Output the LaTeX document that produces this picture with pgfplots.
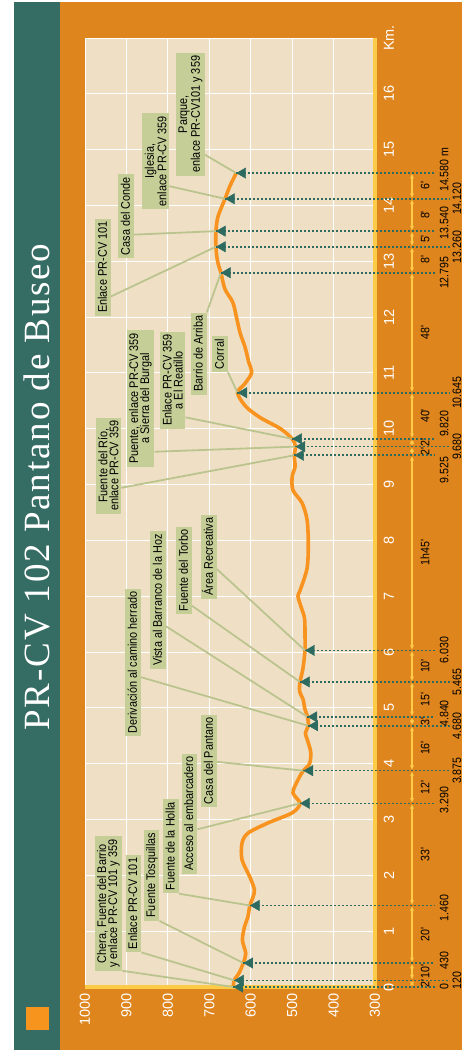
\documentclass[border=0pt]{standalone}
\usepackage{graphicx}
\usepackage{pgfplots}
\pgfplotsset{compat=1.18}
\usetikzlibrary{arrows.meta,calc}
\usepackage{fontspec}
\setmainfont{Liberation Sans}
\newfontfamily\titlefont[LetterSpace=5]{Liberation Serif}
\newfontfamily\boxfamily[FakeStretch=0.87]{Liberation Sans}
\definecolor{bgorange}{HTML}{DF851E}
\definecolor{bandteal}{HTML}{356C63}
\definecolor{cream}{HTML}{EFE0C5}
\definecolor{boxgreen}{HTML}{C5CE97}
\definecolor{curveorange}{HTML}{F7931E}
\definecolor{axisyellow}{HTML}{FECB48}
\definecolor{markteal}{HTML}{2D6A5F}
\definecolor{sqorange}{HTML}{F7941D}
\newcommand\bxf{\boxfamily\fontsize{12.5}{11}\selectfont}
\newcommand\smf{\boxfamily\fontsize{12.2}{12}\selectfont}
\newcommand\tkf{\fontsize{14.5}{16}\selectfont}
\tikzset{
  box/.style={fill=boxgreen, inner xsep=3pt, inner ysep=2.5pt, font=\bxf, text=black, text height=9pt, text depth=1.5pt},
  box2/.style={fill=boxgreen, inner xsep=3pt, inner ysep=2.5pt, font=\bxf, text=black, align=center},
  leader/.style={draw=boxgreen!95!black, line width=1.8pt},
  dropline/.style={draw=markteal, line width=1.6pt, dash pattern=on 2pt off 2pt},
  tline/.style={draw=axisyellow, line width=1.2pt, {Stealth[length=4.5pt,width=4pt]}-{Stealth[length=4.5pt,width=4pt]}, shorten <=1pt, shorten >=1pt},
  tlabel/.style={font=\smf, text=black, anchor=center},
  dlabel/.style={font=\smf, text=black, anchor=center},
}
% time segment: from, to, label, label position
\newcommand\seg[4]{\draw[tline] (axis cs:#1,210.7) -- (axis cs:#2,210.7); \node[tlabel] at (axis cs:#4,179) {#3};}
% dotted drop line: km, alt, end alt
\newcommand\drop[3]{\draw[dropline] (axis cs:#1,#2) -- (axis cs:#1,#3);}
\begin{document}
\rotatebox{90}{%
\begin{tikzpicture}
\fill[white] (0pt,0pt) rectangle (1050pt,462pt);
\fill[bgorange] (0pt,0pt) rectangle (1048pt,402pt);
\fill[bandteal] (0pt,402pt) rectangle (1048pt,448pt);
\fill[sqorange] (20pt,413pt) rectangle (43pt,436pt);
\node[text=white, font=\titlefont\fontsize{37}{40}\selectfont, anchor=center] at (563pt,425pt) {PR-CV 102 Pantano de Buseo};
\begin{axis}[
  at={(63pt,87pt)}, anchor=south west,
  scale only axis, width=949pt, height=290pt,
  xmin=0, xmax=17, ymin=300, ymax=1000,
  xtick={0,1,...,17}, xticklabels={0,1,2,3,4,5,6,7,8,9,10,11,12,13,14,15,16,Km.},
  ytick={300,400,...,1000},
  major tick length=0pt,
  grid=major, grid style={white, line width=0.9pt},
  axis background/.style={fill=cream},
  axis line style={draw=none},
  clip=false,
  /pgf/number format/assume math mode=true,
  /pgf/number format/1000 sep={},
  xticklabel style={font=\tkf, text=white, anchor=center, yshift=-14pt},
  yticklabel style={font=\tkf, text=white, xshift=-3pt},
]
% yellow axis lines
\draw[axisyellow, line width=3.5pt] (axis cs:0,1000) -- (axis cs:0,300) -- (axis cs:17,300);
% profile
\addplot[curveorange, line width=3.6pt, smooth, tension=0.5] coordinates {
(0,642) (0.12,640) (0.25,628) (0.43,618) (0.6,612) (0.84,620) (1.08,615) (1.25,607) (1.46,602) (1.6,595) (1.74,591) (1.97,602) (2.28,621) (2.58,621) (2.76,606) (2.94,558) (3.12,500) (3.29,481) (3.48,498) (3.71,486) (3.875,473) (4.0,458) (4.2,455) (4.4,462) (4.55,468) (4.68,461) (4.84,463) (5.0,470) (5.14,473) (5.3,482) (5.465,481) (5.7,474) (6.03,469) (6.3,469) (6.6,470) (6.8,478) (7.0,486) (7.1,481) (7.5,464) (7.95,461) (8.37,464) (8.67,476) (8.9,498) (9.14,500) (9.32,493) (9.525,495) (9.68,492) (9.82,500) (10.0,528) (10.2,577) (10.4,612) (10.645,632) (10.8,615) (11.0,598) (11.2,605) (11.47,614) (11.7,625) (11.95,633) (12.26,643) (12.5,662) (12.795,672) (13.0,680) (13.26,684) (13.54,684) (13.8,679) (14.12,662) (14.35,650) (14.58,635)};
% boxes
\node[box2] (b1) at (axis cs:1.495,943.5) {Chera, Fuente del Barrio\\y enlace PR-CV 101 y 359};
\node[box] (b2) at (axis cs:1.495,883) {Enlace PR-CV 101};
\node[box] (b3) at (axis cs:2.0,839.5) {Fuente Tosquillas};
\node[box] (b4) at (axis cs:2.52,792.5) {Fuente de la Holla};
\node[box] (b5) at (axis cs:3.105,748) {Acceso al embarcadero};
\node[box] (b6) at (axis cs:4.05,700.5) {Casa del Pantano};
\node[box] (b7) at (axis cs:5.815,884) {Derivación al camino herrado};
\node[box] (b8) at (axis cs:6.93,823.5) {Vista al Barranco de la Hoz};
\node[box] (b9) at (axis cs:7.46,761) {Fuente del Torbo};
\node[box] (b10) at (axis cs:7.71,700.5) {Área Recreativa};
\node[box2] (b11) at (axis cs:9.34,943.5) {Fuente del Río,\\enlace PR-CV 359};
\node[box2] (b12) at (axis cs:10.545,866) {Puente, enlace PR-CV 359\\a Sierra del Burgal};
\node[box2] (b13) at (axis cs:10.87,788.5) {Enlace PR-CV 359\\a El Reatillo};
\node[box] (b14) at (axis cs:11.345,725) {Barrio de Arriba};
\node[box] (b15) at (axis cs:11.335,674) {Corral};
\node[box] (b16) at (axis cs:12.895,956.5) {Enlace PR-CV 101};
\node[box] (b17) at (axis cs:13.81,901) {Casa del Conde};
\node[box2] (b18) at (axis cs:14.795,829.5) {Iglesia,\\enlace PR-CV 359};
\node[box2] (b19) at (axis cs:15.635,745.5) {Parque,\\enlace PR-CV101 y 359};
% leader lines
\draw[leader] (b1.south west) -- (axis cs:0,642);
\draw[leader] (b2.south west) -- (axis cs:0.12,640);
\draw[leader] (b3.south west) -- (axis cs:0.43,618);
\draw[leader] (b4.south west) -- (axis cs:1.46,602);
\draw[leader] ($(b5.south west)!0.37!(b5.south east)$) -- (axis cs:3.29,481);
\draw[leader] ($(b6.south west)!0.49!(b6.south east)$) -- (axis cs:3.875,473);
\draw[leader] ($(b7.south west)!0.40!(b7.south east)$) -- (axis cs:4.68,461);
\draw[leader] ($(b8.south west)!0.31!(b8.south east)$) -- (axis cs:4.84,463);
\draw[leader] ($(b9.south west)!0.10!(b9.south east)$) -- (axis cs:5.465,481);
\draw[leader] ($(b10.south west)!0.35!(b10.south east)$) -- (axis cs:6.03,469);
\draw[leader] ($(b11.south west)!0.27!(b11.south east)$) -- (axis cs:9.525,495);
\draw[leader] ($(b12.south west)!0.11!(b12.south east)$) -- (axis cs:9.68,492);
\draw[leader] ($(b13.south west)!0.12!(b13.south east)$) -- (axis cs:9.82,500);
\draw[leader] (b14.south east) -- (axis cs:12.795,672);
\draw[leader] (b15.south west) -- (axis cs:10.645,632);
\draw[leader] ($(b16.south west)!0.20!(b16.south east)$) -- (axis cs:13.26,684);
\draw[leader] ($(b17.south west)!0.28!(b17.south east)$) -- (axis cs:13.54,684);
\draw[leader] ($(b18.south west)!0.24!(b18.south east)$) -- (axis cs:14.12,662);
\draw[leader] ($(b19.south west)!0.17!(b19.south east)$) -- (axis cs:14.58,635);
% dotted drop lines (A rows end at 155, B rows at 119)
\drop{0}{642}{155}
\drop{0.12}{640}{119}
\drop{0.43}{618}{155}
\drop{1.46}{602}{155}
\drop{3.29}{481}{155}
\drop{3.875}{473}{119}
\drop{4.68}{461}{119}
\drop{4.84}{463}{155}
\drop{5.465}{481}{119}
\drop{6.03}{469}{155}
\drop{9.525}{495}{155}
\drop{9.68}{492}{119}
\drop{9.82}{500}{155}
\drop{10.645}{632}{119}
\drop{12.795}{672}{155}
\drop{13.26}{684}{119}
\drop{13.54}{684}{155}
\drop{14.12}{662}{119}
\drop{14.58}{635}{155}
% markers
\addplot[only marks, mark=triangle*, mark size=6pt, mark options={fill=markteal, draw=markteal, yshift=-6.5pt}] coordinates {
(0,642) (0.12,640) (0.43,618) (1.46,602) (3.29,481) (3.875,473) (4.68,461) (4.84,463) (5.465,481) (6.03,469) (9.525,495) (9.68,492) (9.82,500) (10.645,632) (12.795,672) (13.26,684) (13.54,684) (14.12,662) (14.58,635)};
% time segments
\seg{0}{0.12}{2'}{0.06}
\seg{0.12}{0.43}{10'}{0.275}
\seg{0.43}{1.46}{20'}{0.945}
\seg{1.46}{3.29}{33'}{2.375}
\seg{3.29}{3.875}{12'}{3.58}
\seg{3.875}{4.68}{16'}{4.28}
\seg{4.68}{4.84}{3'}{4.76}
\seg{4.84}{5.465}{15'}{5.15}
\seg{5.465}{6.03}{10'}{5.75}
\seg{6.03}{9.525}{1h45'}{7.78}
\seg{9.525}{9.68}{2'}{9.60}
\seg{9.68}{9.82}{2'}{9.75}
\seg{9.82}{10.645}{40'}{10.23}
\seg{10.645}{12.795}{48'}{11.72}
\seg{12.795}{13.26}{8'}{13.03}
\seg{13.26}{13.54}{5'}{13.40}
\seg{13.54}{14.12}{8'}{13.83}
\seg{14.12}{14.58}{6'}{14.35}
% distance labels
\node[dlabel] at (axis cs:0,133) {0};
\node[dlabel] at (axis cs:0.12,102) {120};
\node[dlabel] at (axis cs:0.48,133) {430};
\node[dlabel] at (axis cs:1.42,133) {1.460};
\node[dlabel] at (axis cs:3.35,133) {3.290};
\node[dlabel] at (axis cs:3.875,102) {3.875};
\node[dlabel] at (axis cs:4.68,102) {4.680};
\node[dlabel] at (axis cs:4.9,133) {4.840};
\node[dlabel] at (axis cs:5.465,102) {5.465};
\node[dlabel] at (axis cs:6.04,133) {6.030};
\node[dlabel, anchor=east] at (axis cs:9.56,133) {9.525};
\node[dlabel] at (axis cs:9.68,102) {9.680};
\node[dlabel, anchor=west] at (axis cs:9.79,133) {9.820};
\node[dlabel] at (axis cs:10.645,102) {10.645};
\node[dlabel] at (axis cs:12.795,133) {12.795};
\node[dlabel] at (axis cs:13.26,102) {13.260};
\node[dlabel] at (axis cs:13.69,133) {13.540};
\node[dlabel] at (axis cs:14.12,102) {14.120};
\node[dlabel] at (axis cs:14.64,133) {14.580 m};
\end{axis}
\pgfresetboundingbox
\path[use as bounding box] (0pt,0pt) rectangle (1050pt,462pt);
\end{tikzpicture}}
\end{document}
